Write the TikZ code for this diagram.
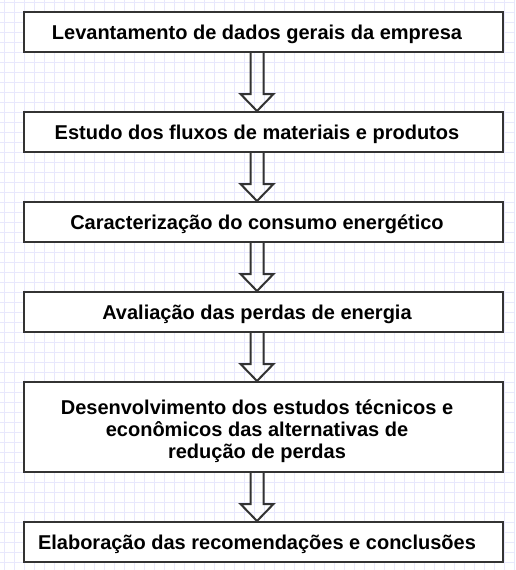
\documentclass[tikz,border=0pt]{standalone}
\usepackage{fontspec}
\setmainfont{Liberation Sans}
\definecolor{gridc}{RGB}{232,232,252}
\definecolor{edge}{RGB}{51,51,51}
\newcommand\hollowarrow[2]{%
  \draw[arr] ([xshift=-6.5pt]#1) -- ([xshift=-6.5pt,yshift=17pt]#2) -- ([xshift=-16.5pt,yshift=17pt]#2) -- (#2)
    -- ([xshift=16.5pt,yshift=17pt]#2) -- ([xshift=6.5pt,yshift=17pt]#2) -- ([xshift=6.5pt]#1);}
\begin{document}
\begin{tikzpicture}[x=1pt,y=-1pt,
  box/.style={draw=edge,line width=2pt,fill=white,minimum width=479pt,inner sep=0pt},
  lbl/.style={font=\bfseries\fontsize{20}{22}\selectfont,align=center,inner sep=0pt,anchor=base},
  arr/.style={draw=edge,line width=2pt,line join=miter}]
\useasboundingbox (0,0) rectangle (515,570);
\fill[white] (0,0) rectangle (515,570);
\foreach \x in {4,14,...,514} \draw[gridc,line width=1pt] (\x,0) -- (\x,570);
\foreach \y in {2,12,...,570} \draw[gridc,line width=1pt] (0,\y) -- (515,\y);
% boxes
\node[box,minimum height=40pt] (b1) at (263.5,32) {};
\node[box,minimum height=40pt] (b2) at (263.5,132) {};
\node[box,minimum height=40pt] (b3) at (263.5,222) {};
\node[box,minimum height=40pt] (b4) at (263.5,312) {};
\node[box,minimum height=90pt] (b5) at (263.5,427) {};
\node[box,minimum height=40pt] (b6) at (263.5,542) {};
% labels
\node[lbl] (t1) at (257,39) {Levantamento de dados gerais da empresa};
\node[lbl] (t2) at (257,139) {Estudo dos fluxos de materiais e produtos};
\node[lbl] (t3) at (257,229) {Caracterização do consumo energético};
\node[lbl] (t4) at (257,319) {Avaliação das perdas de energia};
\node[lbl] (t5) at (257,458) {Desenvolvimento dos estudos técnicos e\\econômicos das alternativas de\\redução de perdas};
\node[lbl] (t6) at (257,549) {Elaboração das recomendações e conclusões};
% arrow anchors
\coordinate (s1) at (b1.south -| t1); \coordinate (e1) at (b2.north -| t1);
\coordinate (s2) at (b2.south -| t1); \coordinate (e2) at (b3.north -| t1);
\coordinate (s3) at (b3.south -| t1); \coordinate (e3) at (b4.north -| t1);
\coordinate (s4) at (b4.south -| t1); \coordinate (e4) at (b5.north -| t1);
\coordinate (s5) at (b5.south -| t1); \coordinate (e5) at (b6.north -| t1);
\hollowarrow{s1}{e1}
\hollowarrow{s2}{e2}
\hollowarrow{s3}{e3}
\hollowarrow{s4}{e4}
\hollowarrow{s5}{e5}
\end{tikzpicture}
\end{document}
